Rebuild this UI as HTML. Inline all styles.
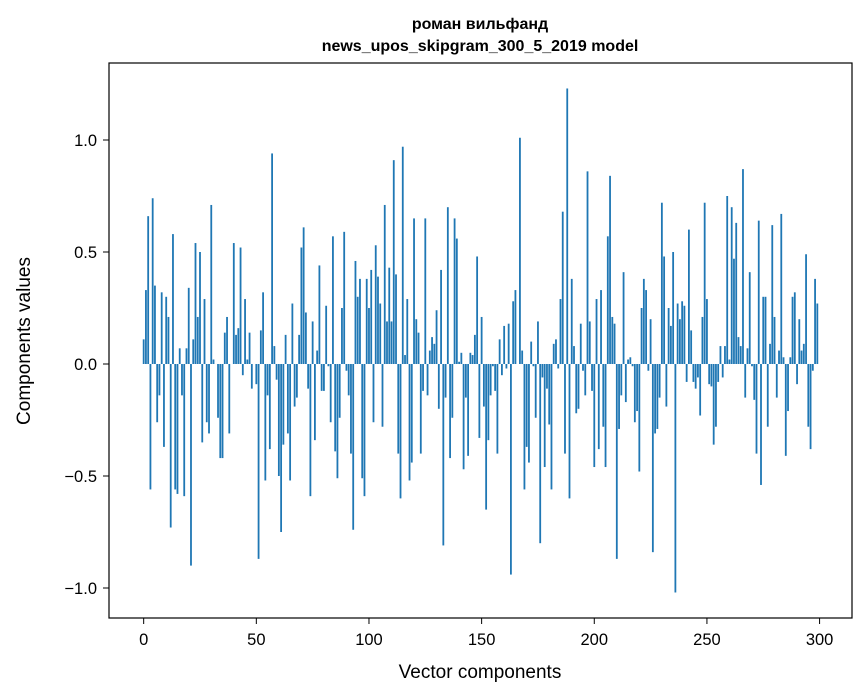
<!DOCTYPE html>
<html><head><meta charset="utf-8"><style>
body{margin:0;background:#fff;}
svg{display:block;font-family:"Liberation Sans","DejaVu Sans",sans-serif;}
</style></head><body>
<svg id="chart" width="867" height="696" viewBox="0 0 867 696" xmlns="http://www.w3.org/2000/svg">
<rect x="0" y="0" width="867" height="696" fill="#fff"/>
<text x="480" y="29" text-anchor="middle" font-size="16" font-weight="bold">роман вильфанд</text>
<text x="480" y="51" text-anchor="middle" font-size="16" font-weight="bold">news_upos_skipgram_300_5_2019 model</text>
<g id="bars"></g>
<g id="xticks"></g>
<g id="yticks"></g>
<rect x="109" y="63" width="743" height="555" fill="none" stroke="#000" stroke-width="1.2"/>
<text x="480" y="678" text-anchor="middle" font-size="19">Vector components</text>
<text transform="translate(30,341) rotate(-90)" text-anchor="middle" font-size="19">Components values</text>
</svg>
<script>
const values = [0.11,0.33,0.66,-0.56,0.74,0.35,-0.26,-0.14,0.32,-0.37,0.30,0.21,-0.73,0.58,-0.56,-0.58,0.07,-0.14,-0.59,0.07,
0.34,-0.90,0.11,0.54,0.21,0.50,-0.35,0.29,-0.26,-0.31,0.71,0.02,0.00,-0.24,-0.42,-0.42,0.14,0.21,-0.31,0.00,
0.54,0.13,0.16,0.52,-0.05,0.29,0.02,0.14,-0.11,0.00,-0.09,-0.87,0.15,0.32,-0.52,-0.14,-0.38,0.94,0.08,-0.07,
-0.50,-0.75,-0.36,0.13,-0.31,-0.52,0.27,-0.19,-0.15,0.13,0.52,0.61,0.23,-0.11,-0.59,0.19,-0.34,0.06,0.44,-0.12,
-0.12,0.26,-0.01,-0.26,0.57,-0.39,-0.51,-0.24,0.25,0.59,-0.03,-0.14,-0.40,-0.74,0.46,0.30,0.38,-0.51,-0.59,0.38,
0.25,0.42,-0.26,0.53,0.39,0.27,-0.28,0.71,0.19,0.43,0.19,0.91,0.40,-0.40,-0.60,0.97,0.04,0.29,-0.52,-0.44,
0.65,0.20,0.14,-0.40,-0.12,0.65,-0.14,0.06,0.12,0.09,0.24,-0.20,0.42,-0.81,-0.15,0.70,-0.42,-0.24,0.65,0.56,
0.01,0.05,-0.47,-0.15,-0.41,0.05,0.04,0.13,0.48,-0.33,0.21,-0.19,-0.65,-0.34,-0.14,-0.01,-0.12,-0.40,0.11,-0.05,
0.17,-0.02,0.18,-0.94,0.28,0.33,0.00,1.01,0.06,-0.56,-0.37,-0.44,0.10,-0.01,-0.24,0.19,-0.80,-0.06,-0.46,-0.11,
-0.27,-0.56,0.09,0.11,-0.02,0.29,0.68,-0.40,1.23,-0.60,0.38,0.08,-0.22,-0.20,0.18,-0.03,-0.14,0.86,0.19,-0.12,
-0.46,0.29,-0.38,0.33,-0.28,-0.46,0.57,0.84,0.21,0.18,-0.87,-0.29,-0.14,0.41,-0.17,0.02,0.03,-0.01,-0.26,-0.21,
-0.48,0.25,0.38,0.33,-0.03,0.20,-0.84,-0.31,-0.29,-0.15,0.72,0.48,-0.19,0.25,0.17,0.50,-1.02,0.27,0.20,0.28,
0.26,-0.08,0.60,0.15,-0.08,-0.11,-0.06,-0.23,0.21,0.72,0.29,-0.09,-0.10,-0.36,-0.28,-0.08,0.08,-0.06,0.08,0.75,
0.02,0.70,0.47,0.63,0.12,0.08,0.87,-0.15,0.07,0.41,-0.01,-0.16,-0.40,0.64,-0.54,0.30,0.30,-0.28,0.09,0.62,
0.21,-0.15,0.06,0.67,0.03,-0.41,-0.21,0.03,0.30,0.32,-0.09,0.20,0.06,0.09,0.49,-0.28,-0.38,-0.03,0.38,0.27];
const xTicks = [0,50,100,150,200,250,300];
const yTicks = [-1.0,-0.5,0.0,0.5,1.0];
const yTickLabels = ["\u22121.0","\u22120.5","0.0","0.5","1.0"];

const NS = "http://www.w3.org/2000/svg";
const X0 = 109, X1 = 852, xMin = -15.39, xMax = 314.39;
function xs(v){ return X0 + (v - xMin) / (xMax - xMin) * (X1 - X0); }
function ys(v){ return 364 - v * 224; }

const barsG = document.getElementById('bars');
const bw = xs(0.8) - xs(0);
values.forEach((v, i) => {
  const r = document.createElementNS(NS, 'rect');
  const y0 = ys(Math.max(v, 0)), y1 = ys(Math.min(v, 0));
  r.setAttribute('x', xs(i - 0.4));
  r.setAttribute('y', y0);
  r.setAttribute('width', bw);
  r.setAttribute('height', Math.max(y1 - y0, 0));
  r.setAttribute('fill', '#1f77b4');
  
  
  barsG.appendChild(r);
});

const xg = document.getElementById('xticks');
xTicks.forEach(t => {
  const x = xs(t);
  const l = document.createElementNS(NS, 'line');
  l.setAttribute('x1', x); l.setAttribute('x2', x);
  l.setAttribute('y1', 618); l.setAttribute('y2', 624);
  l.setAttribute('stroke', '#000');
  
  
  xg.appendChild(l);
  const tx = document.createElementNS(NS, 'text');
  tx.setAttribute('x', x); tx.setAttribute('y', 645);
  tx.setAttribute('text-anchor', 'middle');
  tx.setAttribute('font-size', '16.5');
  
  
  tx.textContent = String(t);
  xg.appendChild(tx);
});

const yg = document.getElementById('yticks');
yTicks.forEach((t, k) => {
  const y = ys(t);
  const l = document.createElementNS(NS, 'line');
  l.setAttribute('x1', 103); l.setAttribute('x2', 109);
  l.setAttribute('y1', y); l.setAttribute('y2', y);
  l.setAttribute('stroke', '#000');
  
  
  yg.appendChild(l);
  const tx = document.createElementNS(NS, 'text');
  tx.setAttribute('x', 97); tx.setAttribute('y', y + 6);
  tx.setAttribute('text-anchor', 'end');
  tx.setAttribute('font-size', '16.5');
  
  
  tx.textContent = yTickLabels[k];
  yg.appendChild(tx);
});
</script>
</body></html>
